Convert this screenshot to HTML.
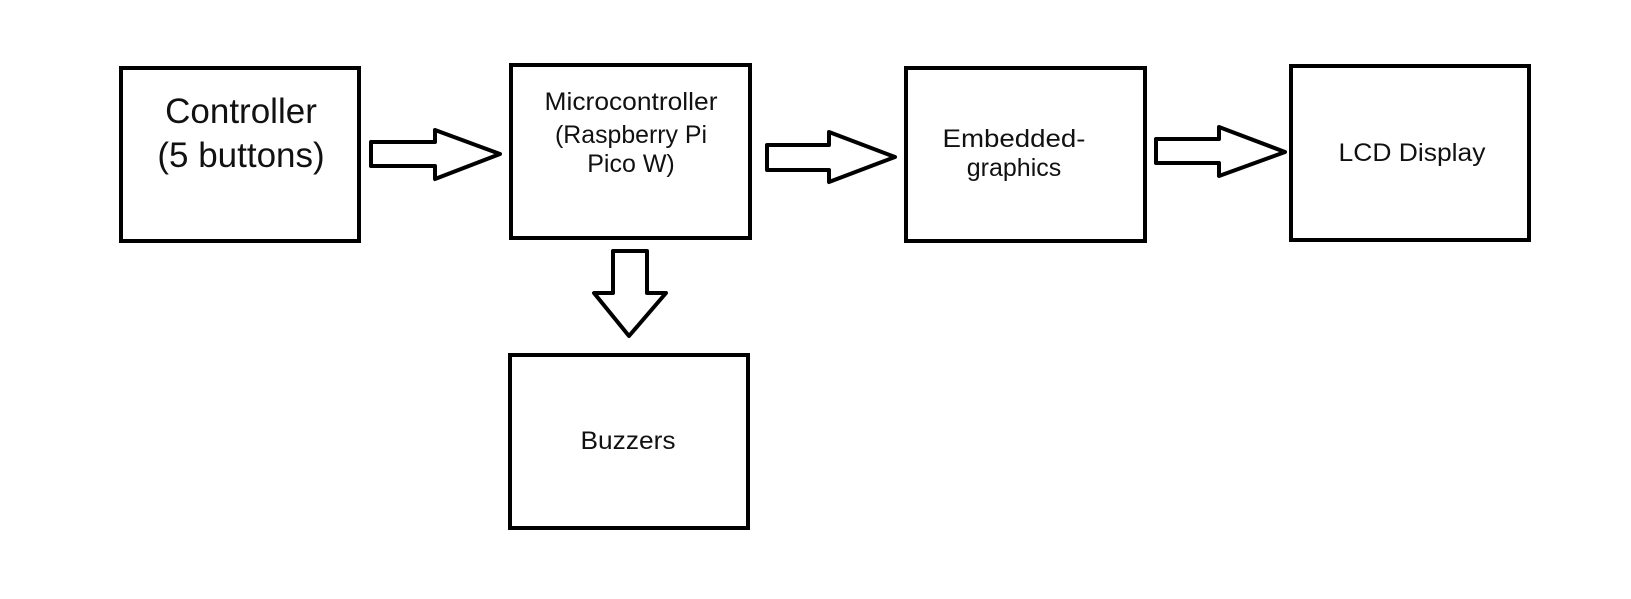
<!DOCTYPE html>
<html><head><meta charset="utf-8"><style>body{margin:0;background:#fff}</style></head>
<body>
<svg width="1631" height="594" xmlns="http://www.w3.org/2000/svg" font-family="Liberation Sans, Arial, sans-serif">
<rect width="1631" height="594" fill="#fff"/>
<g fill="none" stroke="#000" stroke-width="4">
<rect x="121" y="68" width="238" height="173"/>
<rect x="511" y="65" width="239" height="173"/>
<rect x="906" y="68" width="239" height="173"/>
<rect x="1291" y="66" width="238" height="174"/>
<rect x="510" y="355" width="238" height="173"/>
</g>
<g fill="#fff" stroke="#000" stroke-width="4" stroke-linejoin="round">
<polygon points="371,142 435,142 435,130 500,154 435,179 435,166 371,166"/>
<polygon points="767,145 829,145 829,132 895,157 829,182 829,170 767,170"/>
<polygon points="1156,139 1219,139 1219,127 1285,152 1219,176 1219,163 1156,163"/>
<polygon points="613,251 647,251 647,293 666,293 629,336 594,293 613,293"/>
</g>
<g fill="#111" text-anchor="middle">
<text x="241" y="123" font-size="35">Controller</text>
<text x="241" y="167" font-size="35">(5 buttons)</text>
<text x="631" y="110" font-size="25" textLength="173" lengthAdjust="spacingAndGlyphs">Microcontroller</text>
<text x="631" y="143" font-size="25" textLength="152" lengthAdjust="spacingAndGlyphs">(Raspberry Pi</text>
<text x="631" y="172" font-size="25">Pico W)</text>
<text x="1014" y="147" font-size="25" textLength="143" lengthAdjust="spacingAndGlyphs">Embedded-</text>
<text x="1014" y="176" font-size="25">graphics</text>
<text x="1412" y="161" font-size="25" textLength="147" lengthAdjust="spacingAndGlyphs">LCD Display</text>
<text x="628" y="449" font-size="25" textLength="95" lengthAdjust="spacingAndGlyphs">Buzzers</text>
</g>
</svg>
</body></html>
